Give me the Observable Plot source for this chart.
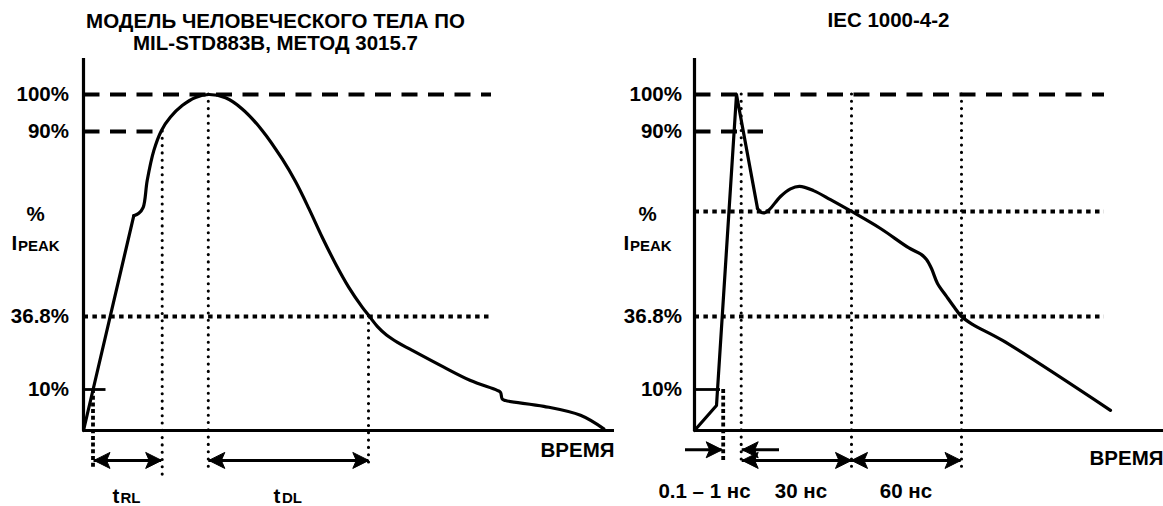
<!DOCTYPE html>
<html>
<head>
<meta charset="utf-8">
<script src="https://cdn.jsdelivr.net/npm/d3@7"></script>
<script src="https://cdn.jsdelivr.net/npm/@observablehq/plot@0.6"></script>
<style>
  body { margin: 0; background: #fff; }
  #wrap { position: relative; width: 1163px; height: 506px; background: #fff; }
  #wrap svg { position: absolute; left: 0; top: 0; }
</style>
</head>
<body>
<div id="wrap"></div>
<script>
const FONT = "'Liberation Sans', Arial, Helvetica, sans-serif";
const FS = 20.5;      // main label size
const FS_SUB = 15;    // subscript size

// ---- shared schematic y scale (% of I_PEAK), piecewise as drawn ----
const yLevels = [0, 10, 36.8, 90, 100];
const yPixels = [430, 389, 316, 131, 94];
const yTickValues = [100, 90, 36.8, 10];
const yTickLabels = ["100%", "90%", "36.8%", "10%"];
const yAxisTop = 109.7;

// ---- LEFT panel: human body model ----
const leftTitle = ["МОДЕЛЬ ЧЕЛОВЕЧЕСКОГО ТЕЛА ПО", "MIL-STD883B, МЕТОД 3015.7"];
const leftRiseTime = [0, 50.3];
const leftRiseCurrent = [0, 65.8];
const leftTime = [50.3,55.3,59.7,63.7,70.3,78,87,98.7,112,125.3,142,158.7,178.7,198.7,212,225.3,238.7,252,265.3,278.7,286,294,303,314,327,360.3,387,413.7,417,418.7,422,460.3,497,520.3];
const leftCurrent = [65.8,66.5,68.2,75.9,84.5,90.3,93.9,97.0,99.2,100,99.1,96.1,90.3,82.1,75.6,67.9,59.6,52.0,45.2,39.5,36.8,33.1,30.0,27.3,24.7,18.2,13.3,9.8,9.3,7.7,7.3,5.9,3.7,0.4];
const leftDashLevel = [100, 90];
const leftDashEnd = [408, 71];
const leftDotLevel = [36.8];
const leftDotEnd = [408];
const leftTenEnd = 22.5;
const leftMarkTime = [9.5];
const leftMarkBottom = [-9.3];
const leftGuideTime = [78.7, 124.8, 285];
const leftGuideTop = [90, 100, 36.8];
const leftGuideBottom = [-11.4, -10.2, -9.3];
const leftArrowFrom = [10.5, 125.3];
const leftArrowTo = [78.2, 285.3];
const leftArrowLevel = [-7.3, -7.3];
const leftArrowHeads = ["both", "both"];
const leftAxisEnd = 531;
const leftTimeLabel = "ВРЕМЯ";
const leftSpanLabels = [{main: "t", sub: "RL", x: 29, xs: 37}, {main: "t", sub: "DL", x: 190, xs: 198.5}];

// ---- RIGHT panel: IEC 1000-4-2 ----
const rightTitle = ["IEC 1000-4-2"];
const rightSpikeTime = [0, 22, 42, 63];
const rightSpikeCurrent = [0, 6.1, 100, 67.9];
const rightTailTime = [63,66,70,75,86,96,105,119,136,157,186,214,227,232,237,243,252,260,267,278,308,416];
const rightTailCurrent = [67.9,66.9,66.6,67.6,71.3,73.5,74.2,73.0,70.4,67.0,62.1,56.6,54.6,53.2,50.6,46.3,42.6,39.4,36.8,33.9,28.0,4.9];
const rightDashLevel = [100, 90];
const rightDashEnd = [410, 69];
const rightDotLevel = [67.0, 36.8];
const rightDotEnd = [410, 410];
const rightTenEnd = 26;
const rightMarkTime = [28.7];
const rightMarkBottom = [-8.0];
const rightGuideTime = [46.7, 157, 267];
const rightGuideTop = [100, 100, 100];
const rightGuideBottom = [-8.1, -10.2, -10.2];
const rightArrowFrom = [-9, 85, 47.7, 157];
const rightArrowTo = [27.7, 47.7, 157, 266.5];
const rightArrowLevel = [-4.7, -4.7, -7.3, -7.3];
const rightArrowHeads = ["end", "end", "both", "both"];
const rightAxisEnd = 469;
const rightTimeLabel = "ВРЕМЯ";
const rightSpanLabels = ["0.1 – 1 нс", "30 нс", "60 нс"];
const rightSpanX = [10, 106.5, 211.5];

// filled concave arrowheads (tip at the origin)
const headRight = {draw(c) { c.moveTo(0, 0); c.lineTo(-16, -8); c.lineTo(-12.5, 0); c.lineTo(-16, 8); c.closePath(); }};
const headLeft  = {draw(c) { c.moveTo(0, 0); c.lineTo(16, -8); c.lineTo(12.5, 0); c.lineTo(16, 8); c.closePath(); }};

const txt = {fill: "black", fontFamily: FONT, fontWeight: "bold", lineAnchor: "middle"};

function panel(p) {
  const marks = [];
  const rows = (a, b) => a.map((v, i) => ({a: v, b: b[i]}));

  // dashed 100% / 90% levels
  marks.push(Plot.ruleY(rows(p.dashLevel, p.dashEnd), {y: "a", x1: 0.5, x2: "b", stroke: "black", strokeWidth: 4, strokeDasharray: "16,10.5"}));
  // square-dotted horizontal levels
  marks.push(Plot.ruleY(rows(p.dotLevel, p.dotEnd), {y: "a", x1: 0.5, x2: "b", stroke: "black", strokeWidth: 4, strokeDasharray: "4.5,4.4"}));
  // round-dotted verticals
  marks.push(Plot.ruleX(p.guideTime.map((t, i) => ({t, y1: p.guideTop[i], y2: p.guideBottom[i]})),
    {x: "t", y1: "y1", y2: "y2", stroke: "black", strokeWidth: 3.1, strokeLinecap: "round", strokeDasharray: "0,7.3"}));
  // thick square-dotted vertical at 10% point
  marks.push(Plot.ruleX(p.markTime.map((t, i) => ({t, y2: p.markBottom[i]})),
    {x: "t", y1: 10, y2: "y2", stroke: "black", strokeWidth: 3.8, strokeDasharray: "4,2.7"}));
  // 10% short tick segment
  marks.push(Plot.ruleY([10], {x1: 0, x2: p.tenEnd, stroke: "black", strokeWidth: 2.8}));
  // axes
  marks.push(Plot.ruleX([0], {y1: 0, y2: yAxisTop, stroke: "black", strokeWidth: 3.2}));
  marks.push(Plot.ruleY([0], {x1: 0, x2: p.axisEnd, stroke: "black", strokeWidth: 3.2}));

  // waveform
  p.curves.forEach(c => {
    marks.push(Plot.line(c.t.map((t, i) => ({t, v: c.v[i]})), {x: "t", y: "v", curve: c.curve, stroke: "black", strokeWidth: 3.2, strokeLinejoin: "round", strokeLinecap: "round"}));
  });

  // arrows
  const arrows = p.arrowFrom.map((f, i) => ({x1: f, x2: p.arrowTo[i], y: p.arrowLevel[i], heads: p.arrowHeads[i]}));
  marks.push(Plot.ruleY(arrows, {y: "y", x1: "x1", x2: "x2", stroke: "black", strokeWidth: 3}));
  const rightHeads = [], leftHeads = [];
  arrows.forEach(a => {
    const dir = Math.sign(a.x2 - a.x1);
    (dir > 0 ? rightHeads : leftHeads).push({x: a.x2, y: a.y});
    if (a.heads === "both") (dir > 0 ? leftHeads : rightHeads).push({x: a.x1, y: a.y});
  });
  marks.push(Plot.dot(rightHeads, {x: "x", y: "y", symbol: headRight, fill: "black", stroke: "black", strokeWidth: 1}));
  marks.push(Plot.dot(leftHeads, {x: "x", y: "y", symbol: headLeft, fill: "black", stroke: "black", strokeWidth: 1}));

  // y tick labels
  marks.push(Plot.text(yTickValues.map((v, i) => ({v, s: yTickLabels[i]})), {x: 0, y: "v", text: "s", textAnchor: "end", dx: -p.tickPad, fontSize: FS, ...txt}));
  // y axis label: % I_PEAK
  marks.push(Plot.text(["%"], {x: p.pctX, y: 66.1, text: d => d, textAnchor: "middle", fontSize: FS, ...txt}));
  marks.push(Plot.text(["I"], {x: p.iX, y: 57.7, text: d => d, textAnchor: "start", fontSize: FS, ...txt}));
  marks.push(Plot.text(["PEAK"], {x: p.iX + 6.5, y: 56.9, text: d => d, textAnchor: "start", fontSize: FS_SUB, ...txt}));
  // time label
  marks.push(Plot.text([p.timeLabel], {x: p.axisEnd, y: p.timeY, text: d => d, textAnchor: "end", fontSize: FS, ...txt}));
  // titles
  marks.push(Plot.text(p.title.map((s, i) => ({s, y: p.titleY[i]})), {x: p.titleX, y: "y", text: "s", textAnchor: "middle", fontSize: FS, ...txt}));
  // extra marks
  p.extra(marks);

  return Plot.plot({
    width: 1163, height: 506, margin: 0,
    style: {background: "transparent", fontFamily: FONT, overflow: "visible"},
    x: {type: "linear", domain: [0, 100], range: [p.origin, p.origin + 100], axis: null},
    y: {type: "linear", domain: yLevels, range: yPixels, axis: null},
    marks
  });
}

const left = panel({
  origin: 83, axisEnd: leftAxisEnd, tickPad: 14.5, pctX: -48, iX: -72,
  title: leftTitle, titleX: 192, titleY: [119.7, 113.8],
  timeLabel: leftTimeLabel, timeY: -4.9,
  dashLevel: leftDashLevel, dashEnd: leftDashEnd, dotLevel: leftDotLevel, dotEnd: leftDotEnd,
  tenEnd: leftTenEnd, markTime: leftMarkTime, markBottom: leftMarkBottom,
  guideTime: leftGuideTime, guideTop: leftGuideTop, guideBottom: leftGuideBottom,
  arrowFrom: leftArrowFrom, arrowTo: leftArrowTo, arrowLevel: leftArrowLevel, arrowHeads: leftArrowHeads,
  curves: [
    {t: leftRiseTime, v: leftRiseCurrent, curve: "linear"},
    {t: leftTime, v: leftCurrent, curve: "catmull-rom"}
  ],
  extra: marks => {
    marks.push(Plot.text(leftSpanLabels, {x: "x", y: -16.2, text: "main", textAnchor: "start", fontSize: FS, ...txt}));
    marks.push(Plot.text(leftSpanLabels, {x: "xs", y: -16.6, text: "sub", textAnchor: "start", fontSize: FS_SUB, ...txt}));
  }
});

const right = panel({
  origin: 694, axisEnd: rightAxisEnd, tickPad: 12.5, pctX: -47, iX: -71,
  title: rightTitle, titleX: 194, titleY: [120],
  timeLabel: rightTimeLabel, timeY: -6.8,
  dashLevel: rightDashLevel, dashEnd: rightDashEnd, dotLevel: rightDotLevel, dotEnd: rightDotEnd,
  tenEnd: rightTenEnd, markTime: rightMarkTime, markBottom: rightMarkBottom,
  guideTime: rightGuideTime, guideTop: rightGuideTop, guideBottom: rightGuideBottom,
  arrowFrom: rightArrowFrom, arrowTo: rightArrowTo, arrowLevel: rightArrowLevel, arrowHeads: rightArrowHeads,
  curves: [
    {t: rightSpikeTime, v: rightSpikeCurrent, curve: "linear"},
    {t: rightTailTime, v: rightTailCurrent, curve: "catmull-rom"}
  ],
  extra: marks => {
    marks.push(Plot.text(rightSpanLabels.map((s, i) => ({s, x: rightSpanX[i]})), {x: "x", y: -14.8, text: "s", textAnchor: "middle", fontSize: FS, ...txt}));
  }
});

const wrap = document.getElementById("wrap");
wrap.appendChild(left);
wrap.appendChild(right);
</script>
</body>
</html>
